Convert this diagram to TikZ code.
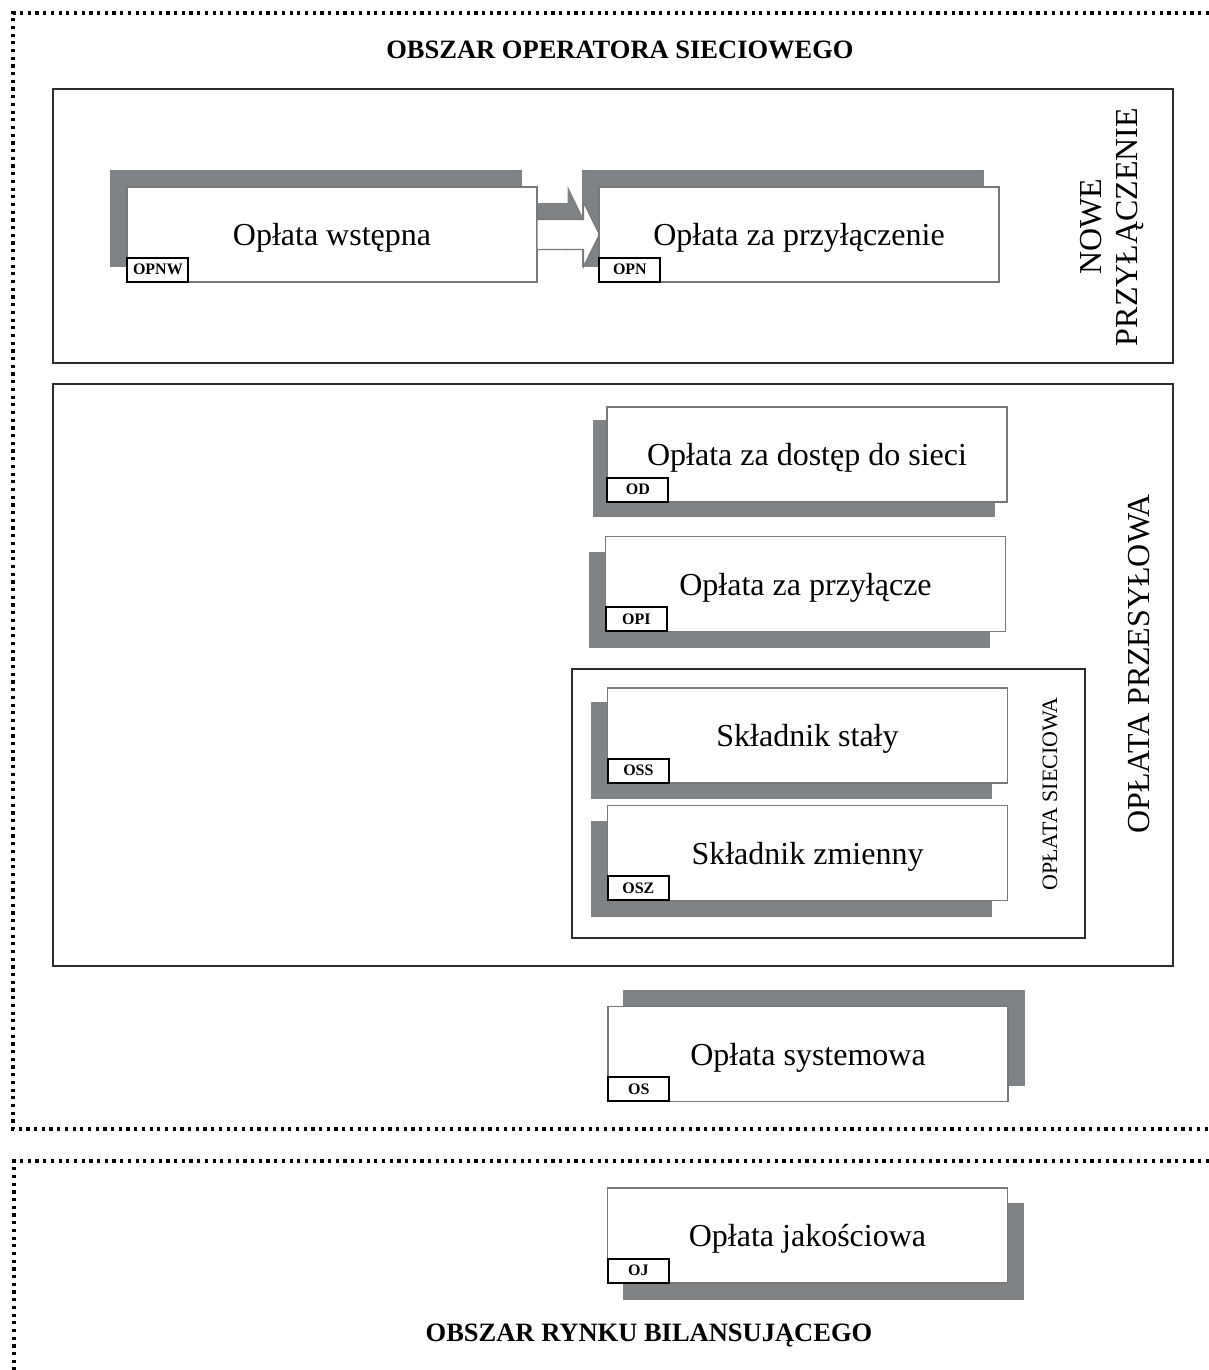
\documentclass[tikz,border=0pt]{standalone}
\usepackage{fontspec}
\setmainfont{Liberation Serif}
\usetikzlibrary{calc,backgrounds}
\definecolor{shadowc}{RGB}{128,131,134}
\definecolor{boxline}{RGB}{120,120,120}
\definecolor{framec}{RGB}{45,45,45}
\newcommand\mkshadow[3]{\fill[shadowc] ($(#1.south west)+(#2,#3)$) rectangle ($(#1.north east)+(#2,#3)$);}
\begin{document}
\begin{tikzpicture}[x=0.5pt,y=-0.5pt,
  wbox/.style={draw=boxline,line width=0.6pt,fill=white,minimum width=200pt,minimum height=47.5pt,inner sep=0pt,text depth=0pt,font=\fontsize{16}{18}\selectfont},
  lbl/.style={draw=black,line width=1pt,fill=white,minimum width=30.5pt,minimum height=12pt,inner sep=0pt,anchor=south west,font=\bfseries\fontsize{8}{9}\selectfont},
  frame/.style={draw=framec,line width=1pt},
  dotline/.style={draw=black,line width=1.6pt,dash pattern=on 1.6pt off 2.25pt},
  vtext/.style={rotate=90,align=center,inner sep=0pt}]
\useasboundingbox (0,0) rectangle (1209,1370);
% dotted areas
\draw[dotline] (1209,13) -- (13,13) -- (13,1129) -- (1209,1129);
\draw[dotline] (1209,1161) -- (14,1161) -- (14,1370);
% headers
\node[font=\bfseries\fontsize{13.25}{15}\selectfont] (h1) at (620,50) {OBSZAR OPERATORA SIECIOWEGO};
\node[font=\bfseries\fontsize{13.25}{15}\selectfont] (h2) at (649,1335) {OBSZAR RYNKU BILANSUJĄCEGO};
% frames
\draw[frame] (53,89) rectangle (1173,363);
\draw[frame] (53,384) rectangle (1173,966);
\draw[frame] (572,669) rectangle (1085,938);
% vertical texts
\node[vtext,font=\fontsize{16}{18}\selectfont] (np) at (1112,227) {NOWE\\PRZYŁĄCZENIE};
\node[vtext,font=\fontsize{16}{18}\selectfont] (op) at (1139,664) {OPŁATA PRZESYŁOWA};
\node[vtext,font=\fontsize{11}{12}\selectfont] (osv) at (1050,794) {OPŁATA SIECIOWA};
% boxes
\node[wbox,minimum width=205pt] (b1) at (332,234.5) {Opłata wstępna};
\node[lbl] (l1) at (b1.south west) {OPNW};
\node[wbox] (b2) at (799,234.5) {Opłata za przyłączenie};
\node[wbox] (od) at (807,454.5) {Opłata za dostęp do sieci};
\node[lbl] (lod) at (od.south west) {OD};
\node[wbox] (opi) at (805.5,584) {Opłata za przyłącze};
\node[lbl] (lopi) at (opi.south west) {OPI};
\node[wbox] (oss) at (807.5,735.5) {Składnik stały};
\node[lbl] (loss) at (oss.south west) {OSS};
\node[wbox] (osz) at (807.5,853) {Składnik zmienny};
\node[lbl] (losz) at (osz.south west) {OSZ};
\node[wbox] (os) at (808,1054) {Opłata systemowa};
\node[lbl] (los) at (os.south west) {OS};
\node[wbox] (oj) at (807.5,1235.5) {Opłata jakościowa};
\node[lbl] (loj) at (oj.south west) {OJ};
% arrow between b1 and b2
\coordinate (ae) at (b1.east);
\coordinate (at) at (b2.west);
\begin{scope}[on background layer]
  \mkshadow{b1}{-16}{-16}
  \mkshadow{b2}{-16}{-16}
  \mkshadow{od}{-13}{14}
  \mkshadow{opi}{-16}{16}
  \mkshadow{oss}{-16}{15}
  \mkshadow{osz}{-16}{16}
  \mkshadow{os}{16}{-16}
  \mkshadow{oj}{16}{16}
  \fill[shadowc] ($(ae)+(-16,-31.5)$) -- ($(ae)+(30,-31.5)$) -- ($(ae)+(30,-48.5)$) -- ($(at)+(-15,-16)$) -- ($(ae)+(30,16.5)$) -- ($(ae)+(30,-1.5)$) -- ($(ae)+(-16,-1.5)$) -- cycle;
\end{scope}
\path[fill=white] ($(ae)+(0,-15)$) -- ($(ae)+(46,-15)$) -- ($(ae)+(46,-32)$) -- ($(at)+(1,0)$) -- ($(ae)+(46,32)$) -- ($(ae)+(46,15)$) -- ($(ae)+(0,15)$) -- cycle;
\draw[boxline,line width=0.6pt] ($(ae)+(0,-15)$) -- ($(ae)+(46,-15)$) -- ($(ae)+(46,-32)$) -- ($(at)+(1,0)$) -- ($(ae)+(46,32)$) -- ($(ae)+(46,15)$) -- ($(ae)+(0,15)$);
\node[wbox] (b2b) at (b2) {Opłata za przyłączenie};
\node[lbl] (l2) at (b2b.south west) {OPN};
\end{tikzpicture}
\end{document}
